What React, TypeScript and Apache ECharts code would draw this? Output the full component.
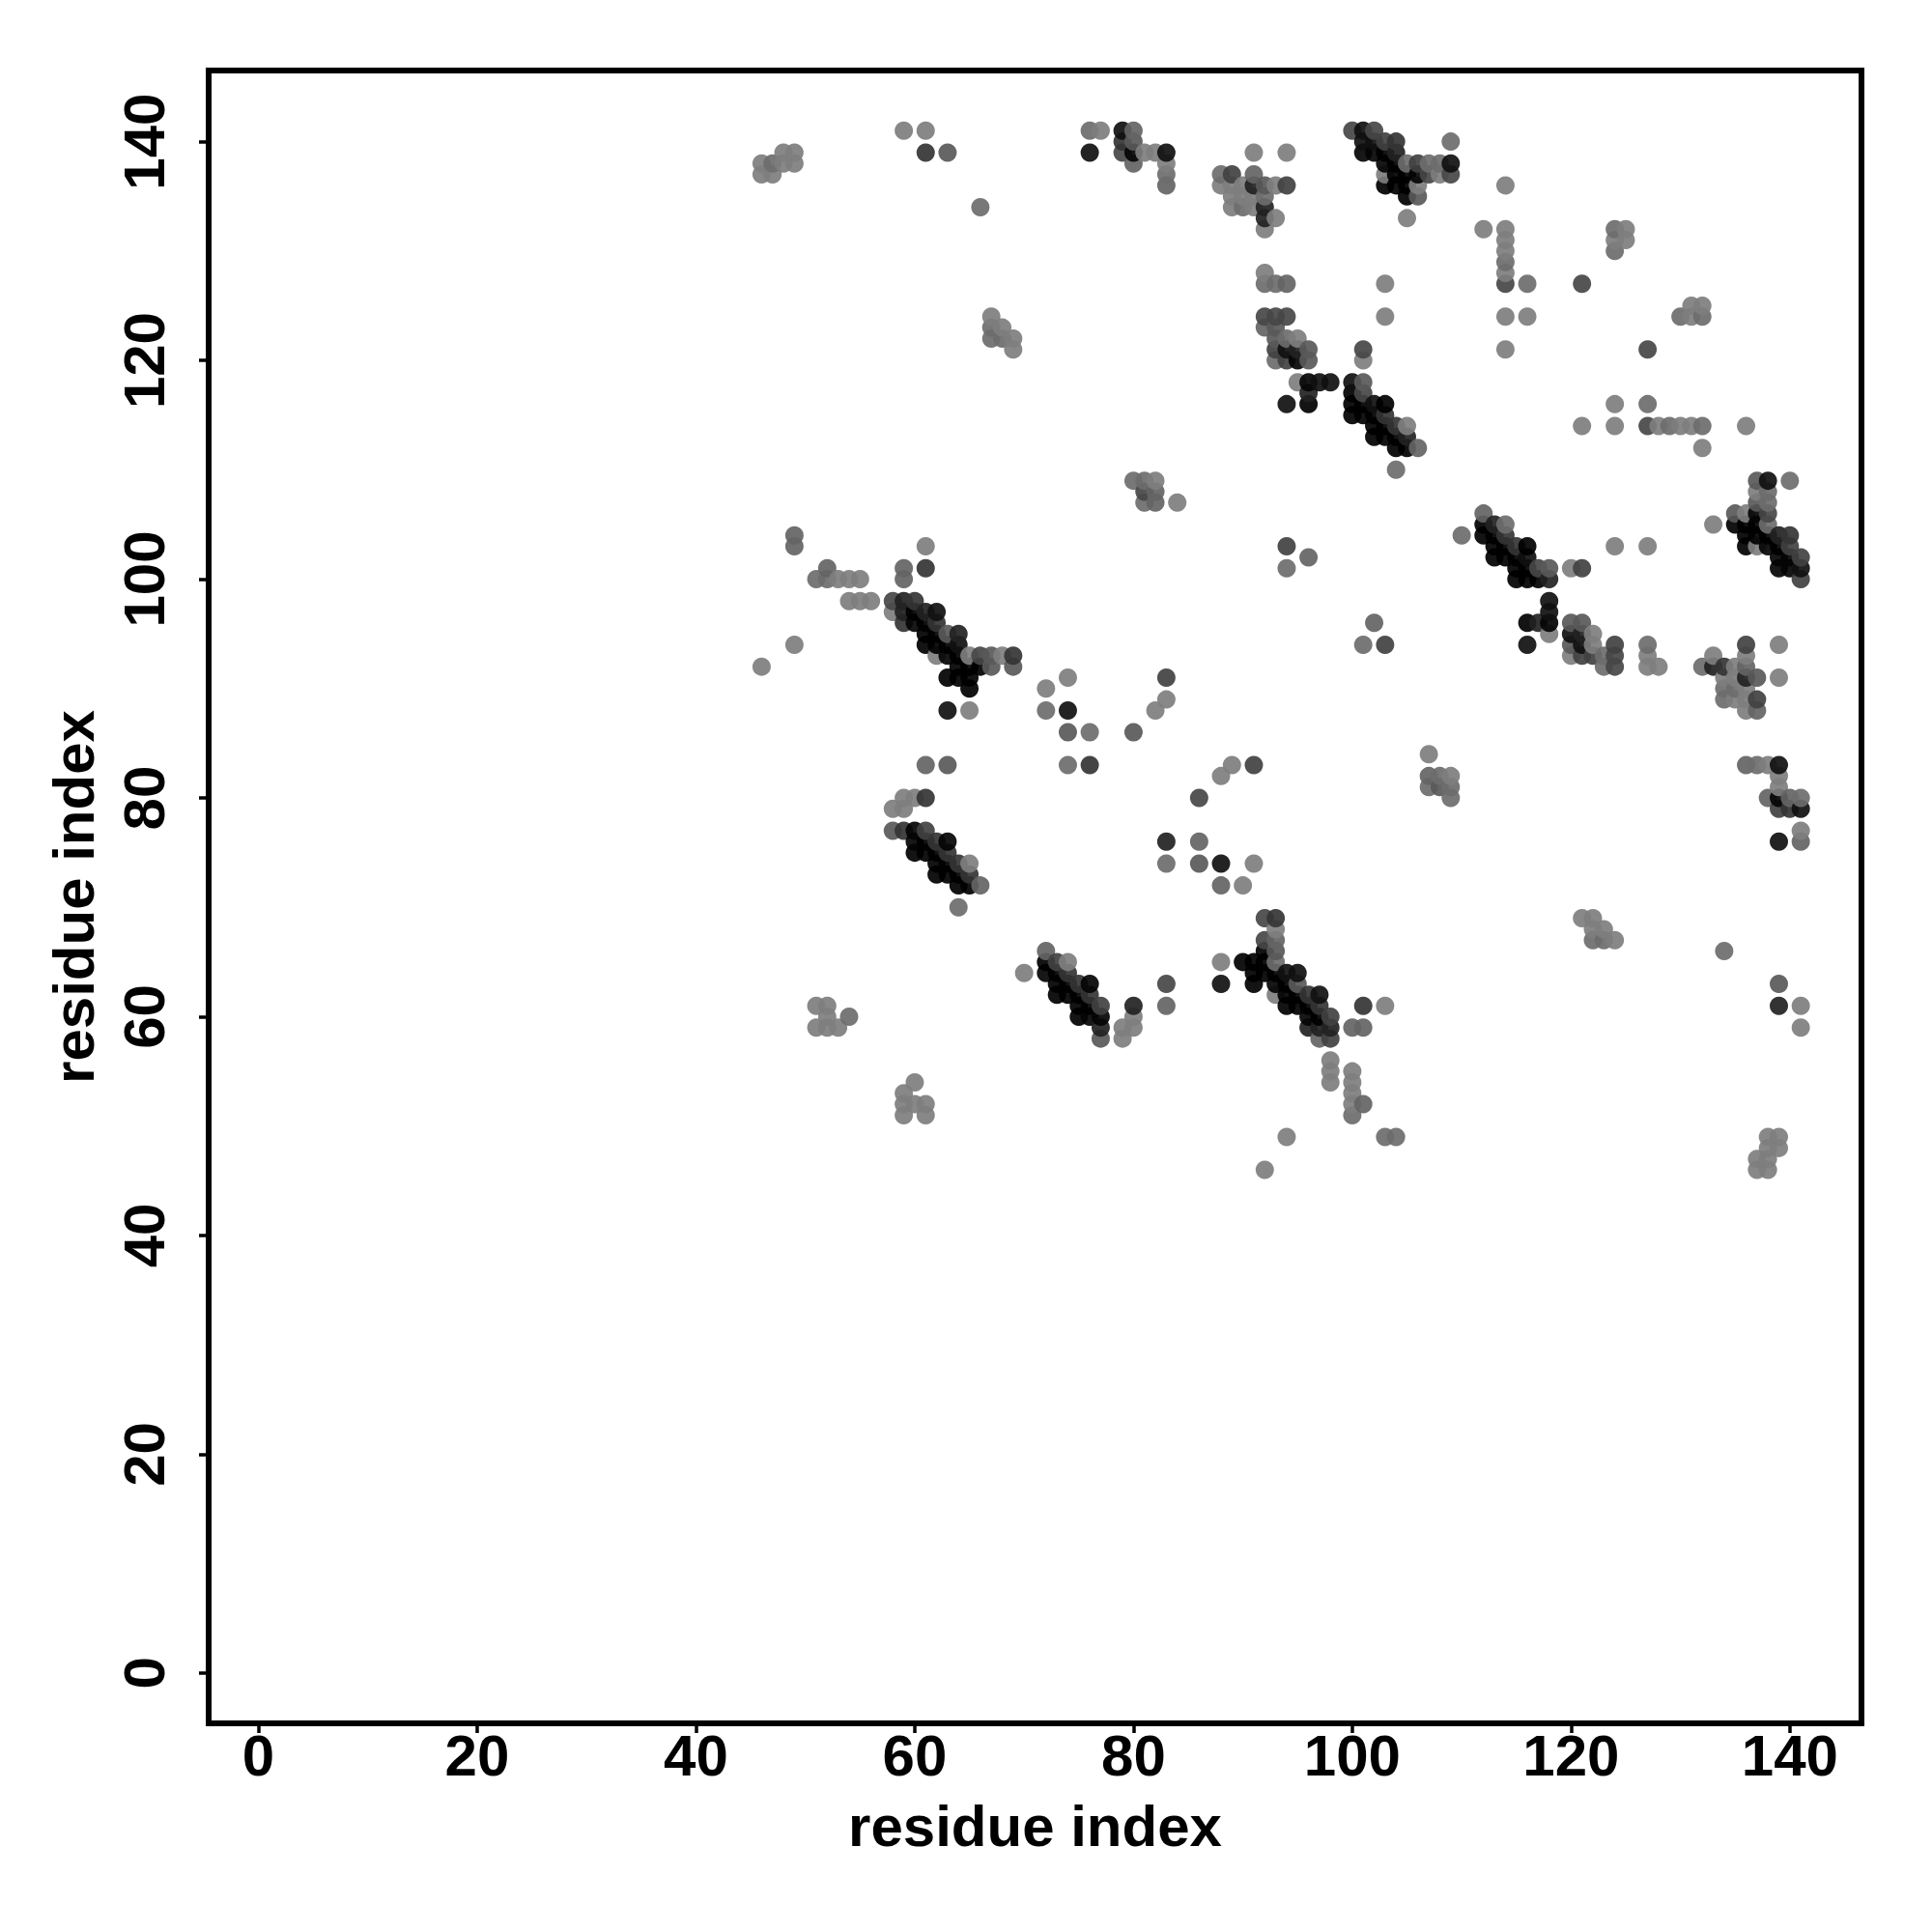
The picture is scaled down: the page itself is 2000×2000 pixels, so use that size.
import React, { useEffect, useRef } from "react";
import * as echarts from "echarts";

type Contact = [number, number, number];

const tickValues = [0, 20, 40, 60, 80, 100, 120, 140];
const axisTitle = "residue index";

// Each contact: residue i, residue j, contact strength class (0 weak .. 10 strong)
const topLeftContacts: Contact[] = [
  [46,138,0],[46,137,0],[47,138,1],[47,137,0],[48,139,0],[48,138,0],[49,139,0],[49,138,0],
  [59,141,0],[61,141,0],[61,139,6],[63,139,3],[66,134,1],
  [67,124,0],[67,123,1],[67,122,1],[68,123,0],[68,122,1],[69,122,0],[69,121,0],
  [76,141,1],[77,141,0],[76,139,8],
  [79,141,8],[79,140,6],[79,139,4],[80,141,2],[80,140,3],[80,139,9],[80,138,2],
  [81,139,0],[82,139,0],[83,139,8],[83,138,0],[83,137,1],[83,136,2],
  [80,109,1],[81,109,1],[82,109,0],[81,108,4],[82,108,2],[81,107,1],[82,107,2],[84,107,0],
];

const topMiddleContacts: Contact[] = [
  [91,139,0],[94,139,0],
  [88,137,1],[89,137,5],[91,137,2],
  [88,136,0],[89,136,0],[90,136,0],[91,136,7],[92,136,3],[93,136,0],[94,136,5],
  [89,135,0],[90,135,0],[91,135,0],[92,135,1],
  [89,134,0],[90,134,1],[91,134,0],[92,134,7],
  [92,133,7],[93,133,0],[92,132,0],
  [100,141,4],[101,141,8],[102,141,4],
  [101,140,8],[102,140,8],[103,140,5],[104,140,6],[109,140,1],
  [101,139,9],[102,139,9],[103,139,10],[104,139,7],
  [103,138,9],[104,138,10],[105,138,1],[106,138,5],[107,138,1],[108,138,1],[109,138,8],
  [103,137,0],[104,137,10],[105,137,10],[106,137,9],[107,137,4],[108,137,0],[109,137,4],
  [103,136,10],[104,136,10],[105,136,10],[106,136,0],
  [105,135,10],[106,135,3],[105,133,0],
];

const topRightContacts: Contact[] = [
  [114,136,0],[112,132,0],[114,132,0],[114,131,0],[114,130,0],[114,129,1],[114,128,0],[114,127,4],
  [116,127,1],[121,127,4],
  [124,132,1],[125,132,0],[124,131,0],[125,131,0],[124,130,1],
  [130,124,1],[131,125,0],[131,124,0],[132,125,0],[132,124,1],
  [103,127,0],[103,124,0],[114,124,0],[116,124,0],[114,121,0],[127,121,4],
  [92,128,0],[92,127,1],[93,127,1],[94,127,2],
  [121,114,0],[124,116,0],[124,114,0],[127,116,1],[127,114,4],
  [128,114,0],[129,114,1],[130,114,0],[131,114,0],[132,114,1],[136,114,0],[132,112,0],
];

const helix120Contacts: Contact[] = [
  [92,124,4],[93,124,4],[94,124,4],
  [92,123,2],[93,123,3],
  [93,122,3],[94,122,1],[95,122,0],
  [93,121,5],[94,121,8],[95,121,7],[96,121,3],
  [93,120,1],[94,120,5],[95,120,9],[96,120,3],
  [101,121,4],[101,120,0],
  [95,118,0],[96,118,9],[97,118,8],[98,118,8],[100,118,8],[101,118,3],
  [96,117,7],[100,117,10],[101,117,4],
  [94,116,8],[96,116,10],[100,116,10],[101,116,10],[102,116,8],[103,116,10],
  [100,115,10],[101,115,10],[102,115,10],[103,115,6],
  [102,114,10],[103,114,10],[104,114,6],[105,114,0],
  [102,113,10],[103,113,10],[104,113,10],[105,113,7],
  [104,112,10],[105,112,10],[106,112,2],[104,110,1],
];

const helix105Contacts: Contact[] = [
  [133,105,0],[137,109,3],[138,109,8],[140,109,1],
  [137,108,0],[138,108,1],[137,107,3],[138,107,1],
  [135,106,3],[136,106,0],[137,106,9],[138,106,4],
  [135,105,10],[136,105,10],[137,105,10],[138,105,1],
  [136,104,10],[137,104,10],[138,104,10],[139,104,7],[140,104,6],
  [136,103,10],[137,103,0],[138,103,9],[139,103,10],[140,103,5],
  [139,102,9],[140,102,9],[141,102,5],
  [139,101,9],[140,101,9],[141,101,8],[141,100,5],
  [112,106,2],[110,104,1],
  [112,105,10],[113,105,7],[114,105,1],
  [112,104,10],[113,104,10],[114,104,6],
  [113,103,10],[114,103,10],[115,103,6],[116,103,10],
  [113,102,10],[114,102,10],[115,102,10],[116,102,8],
  [115,101,10],[116,101,10],[117,101,4],[118,101,3],
  [115,100,10],[116,100,10],[117,100,10],[118,100,7],
  [124,103,0],[127,103,0],[120,101,0],[121,101,5],
];

const midRightContacts: Contact[] = [
  [118,98,8],[118,97,8],[116,96,10],[117,96,7],[118,96,9],[118,95,0],[116,94,8],
  [120,96,3],[121,96,3],[120,95,8],[121,95,7],[122,95,0],
  [120,94,3],[121,94,8],[122,94,0],[124,94,5],
  [120,93,0],[121,93,5],[122,93,5],[123,93,1],[124,93,4],
  [123,92,1],[124,92,4],
  [127,94,1],[127,93,0],[127,92,0],[128,92,0],
  [139,94,0],[139,91,0],
  [132,92,1],[133,93,0],[133,92,7],[134,92,6],
  [136,94,5],[136,93,0],[135,92,0],[136,92,2],[136,91,7],[137,91,3],
  [134,91,0],[135,91,0],[134,90,1],[135,90,1],[136,90,0],
  [134,89,1],[135,89,0],[136,89,0],[137,89,5],[136,88,0],[137,88,2],
  [136,83,2],[137,83,1],[138,83,0],[139,83,8],[139,82,0],[139,81,0],
  [138,80,2],[139,80,9],[140,80,2],[141,80,1],
  [139,79,5],[140,79,6],[141,79,8],
  [141,77,0],[141,76,2],[139,76,8],
];

const helix95Contacts: Contact[] = [
  [49,104,2],[49,103,2],[61,103,0],[49,94,0],[46,92,0],
  [52,101,2],[59,101,2],[61,101,6],
  [51,100,1],[52,100,1],[53,100,0],[54,100,0],[55,100,0],[59,100,2],
  [54,98,0],[55,98,0],[56,98,0],[58,98,4],[59,98,7],[60,98,6],
  [58,97,0],[59,97,7],[60,97,10],[61,97,7],[62,97,8],
  [59,96,6],[60,96,9],[61,96,10],[62,96,6],
  [61,95,10],[62,95,10],[63,95,3],[64,95,7],
  [61,94,10],[62,94,10],[63,94,10],[64,94,8],
  [62,93,0],[63,93,9],[64,93,10],[65,93,0],[66,93,4],[67,93,3],[68,93,0],[69,93,6],
  [64,92,10],[65,92,10],[66,92,10],[67,92,3],[69,92,3],
  [63,91,10],[64,91,10],[65,91,10],[65,90,10],
  [63,88,8],[65,88,0],
];

const midCentreContacts: Contact[] = [
  [72,90,0],[74,91,0],[72,88,1],[74,88,8],[74,86,3],[76,86,1],
  [61,83,2],[63,83,3],[74,83,1],[76,83,6],
  [83,91,5],[83,89,0],[82,88,0],[80,86,3],
  [86,80,4],[88,82,0],[89,83,0],[91,83,5],
  [83,76,7],[86,76,2],[83,74,1],[86,74,3],[88,74,8],[91,74,0],[88,72,2],[90,72,0],
  [94,103,5],[96,102,2],[94,101,1],[102,96,2],[101,94,1],[103,94,5],
  [107,84,0],[107,82,2],[108,82,1],[109,82,0],[107,81,1],[108,81,3],[109,81,1],[109,80,1],
];

const helix75Contacts: Contact[] = [
  [59,80,0],[60,80,0],[61,80,6],[58,79,0],[59,79,0],
  [58,77,3],[59,77,6],[60,77,9],[61,77,5],
  [60,76,9],[61,76,10],[62,76,6],[63,76,9],
  [60,75,10],[61,75,10],[62,75,10],[63,75,6],
  [62,74,10],[63,74,10],[64,74,6],[65,74,0],
  [62,73,10],[63,73,10],[64,73,10],[65,73,6],
  [64,72,10],[65,72,10],[66,72,2],[64,70,1],
];

const helix65Contacts: Contact[] = [
  [92,69,4],[93,69,6],[93,68,0],[92,67,4],[93,67,2],[92,66,10],[93,66,3],
  [88,65,0],[90,65,10],[91,65,10],[92,65,10],[93,65,1],
  [91,64,10],[92,64,10],[93,64,10],[94,64,8],[95,64,8],
  [88,63,8],[91,63,10],[93,63,9],[94,63,10],[95,63,3],
  [93,62,0],[94,62,10],[95,62,10],[96,62,6],[97,62,8],
  [94,61,10],[95,61,10],[96,61,10],[97,61,6],[101,61,6],[103,61,0],
  [96,60,9],[97,60,10],[98,60,5],
  [96,59,7],[97,59,7],[98,59,7],[100,59,2],[101,59,2],
  [97,58,2],[98,58,5],
  [98,56,0],[98,55,0],[100,55,0],[98,54,0],[100,54,0],[100,53,0],[100,52,0],[101,52,2],[100,51,1],
  [94,49,0],[103,49,1],[104,49,1],[92,46,0],
];

const helix60Contacts: Contact[] = [
  [72,66,2],[72,65,10],[73,65,5],[74,65,0],[70,64,0],
  [72,64,9],[73,64,10],[74,64,6],
  [73,63,10],[74,63,10],[75,63,6],[76,63,9],
  [73,62,10],[74,62,10],[75,62,10],[76,62,6],
  [75,61,10],[76,61,10],[77,61,5],[80,61,7],[83,63,4],[83,61,2],
  [75,60,10],[76,60,9],[77,60,9],[80,60,0],
  [77,59,7],[79,59,0],[80,59,0],[77,58,3],[79,58,0],
];

const bottomContacts: Contact[] = [
  [51,61,0],[52,61,0],[52,60,0],[54,60,1],[51,59,0],[52,59,0],[53,59,0],
  [60,54,0],[59,53,0],[59,52,0],[60,52,0],[61,52,0],[59,51,0],[61,51,0],
  [121,69,0],[122,69,0],[122,68,0],[123,68,0],[122,67,1],[123,67,1],[124,67,0],
  [134,66,1],[139,63,3],[139,61,7],[141,61,0],[141,59,0],
  [138,49,0],[139,49,0],[138,48,0],[139,48,0],[137,47,0],[138,47,0],[137,46,0],[138,46,0],
];

const strengthGrays = [126, 108, 100, 89, 70, 65, 52, 34, 16, 4, 0];

export default function App() {
  const ref = useRef<HTMLDivElement>(null);
  useEffect(() => {
    const chart = echarts.init(ref.current!, undefined, { renderer: "svg" });
    const contacts = [
      ...topLeftContacts, ...topMiddleContacts, ...topRightContacts, ...helix120Contacts,
      ...helix105Contacts, ...midRightContacts, ...helix95Contacts, ...midCentreContacts,
      ...helix75Contacts, ...helix65Contacts, ...helix60Contacts, ...bottomContacts,
    ].sort((a, b) => a[0] - b[0] || a[1] - b[1]);
    const font = { fontFamily: "Liberation Sans", fontWeight: "bold" as const, color: "#000" };
    const axisBase = {
      type: "value" as const,
      name: axisTitle,
      nameLocation: "middle" as const,
      nameTextStyle: { ...font, fontSize: 60 },
      splitLine: { show: false },
      axisLine: { show: false, onZero: false },
      axisTick: { show: true, length: 10, lineStyle: { color: "#000", width: 3.5 }, customValues: tickValues },
    };
    chart.setOption({
      animation: false,
      backgroundColor: "#fff",
      grid: { show: true, left: 216, right: 73, top: 73, bottom: 216, borderColor: "#000", borderWidth: 6, backgroundColor: "transparent" },
      xAxis: { ...axisBase, min: -4.55, max: 146.55, nameGap: 76, axisLabel: { ...font, fontSize: 60, margin: 3, customValues: tickValues, lineHeight: 60 } },
      yAxis: { ...axisBase, min: -4.6, max: 146.5, nameGap: 110, axisLabel: { ...font, fontSize: 60, rotate: 90, margin: 37, customValues: tickValues, lineHeight: 60 } },
      series: [{
        type: "scatter",
        symbol: "circle",
        symbolSize: 19,
        data: contacts,
        encode: { x: 0, y: 1 },
        itemStyle: {
          opacity: 0.92,
          color: (p: any) => {
            const g = strengthGrays[p.data[2]];
            return `rgb(${g},${g},${g})`;
          },
        },
      }],
    });
    return () => chart.dispose();
  }, []);
  return <div ref={ref} style={{ position: "absolute", left: 0, top: 0, width: 2000, height: 2000 }} />;
}
